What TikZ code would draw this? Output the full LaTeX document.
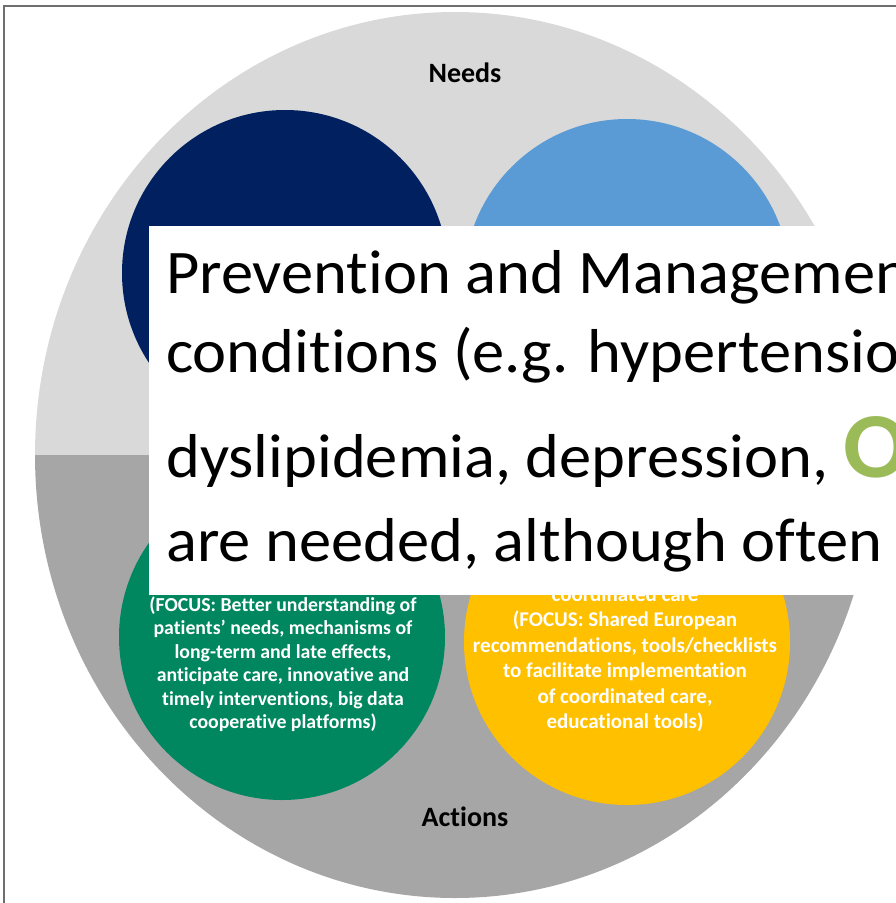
\documentclass[tikz,border=0pt]{standalone}
\usepackage{xcolor}
\usepackage{fontspec}
\setmainfont{Carlito}[RawFeature=-liga]
\newfontfamily\capfont{Carlito}[FakeStretch=1.04, RawFeature=-liga]
\usepackage{tikz}
\usetikzlibrary{positioning}

\definecolor{needgray}{HTML}{D9D9D9}
\definecolor{actgray}{HTML}{A6A6A6}
\definecolor{navyblue}{HTML}{002060}
\definecolor{skyblue}{HTML}{5B9BD5}
\definecolor{focusgreen}{HTML}{00875F}
\definecolor{amber}{HTML}{FFC000}
\definecolor{olivegreen}{HTML}{9BBB59}
\definecolor{framegray}{HTML}{6E6E6E}

\begin{document}
\begin{tikzpicture}[
        x=1pt, y=-1pt,
        bubble/.style={circle, minimum size=326pt, inner sep=0pt},
        focus/.style={text=white, align=center, inner sep=0pt, font=\bfseries\fontsize{19.8}{23.5}\selectfont},
        tag/.style={font=\bfseries\fontsize{28}{28}\selectfont},
        bigline/.style={anchor=base west, inner sep=0pt, font=\capfont\fontsize{62}{62}\selectfont}
    ]
    \useasboundingbox (0,0) rectangle (896,903);
    \clip (0,0) rectangle (896,903);
    \fill[white] (0,0) rectangle (896,903);
    \draw[framegray, line width=1.3pt] (4,6) rectangle (960,960);

    % the needs / actions disc
    \begin{scope}
        \clip (455,455) ellipse [x radius=420pt, y radius=443pt];
        \fill[needgray] (0,0) rectangle (896,455);
        \fill[actgray] (0,455) rectangle (896,903);
    \end{scope}
    \node[tag] (needs) at (465,73) {Needs};
    \node[tag] (actions) at (465,817) {Actions};

    \node[bubble, fill=navyblue] (early) at (285,273) {};
    \node[bubble, fill=skyblue] (survivor) at (627,282) {};
    \node[bubble, fill=focusgreen] (research) at (282,637) {};
    \node[bubble, fill=amber] (coordcare) at (627,642) {};

    \node[focus] (researchtxt) at (283,664) {(FOCUS: Better understanding of\\
        patients’ needs, mechanisms of\\
        long-term and late effects,\\
        anticipate care, innovative and\\
        timely interventions, big data\\
        cooperative platforms)};
    \node[focus, font=\bfseries\fontsize{21}{25.5}\selectfont] (caretxt) at (625,659) {coordinated care\\
        (FOCUS: Shared European\\
        recommendations, tools/checklists\\
        to facilitate implementation\\
        of coordinated care,\\
        educational tools)};

    % caption box on top
    \fill[white] (149,226) rectangle (960,595);
    \node[bigline] (line1) at (166,293) {Prevention and Management of};
    \node[bigline] (line2) at (166,372) {conditions (e.g. hypertension,};
    \node[bigline] (line3) at (166,477) {dyslipidemia, depression, {\color{olivegreen}\bfseries\fontsize{93}{93}\selectfont O}};
    \node[bigline] (line4) at (166,561) {are needed, although often};
\end{tikzpicture}
\end{document}
